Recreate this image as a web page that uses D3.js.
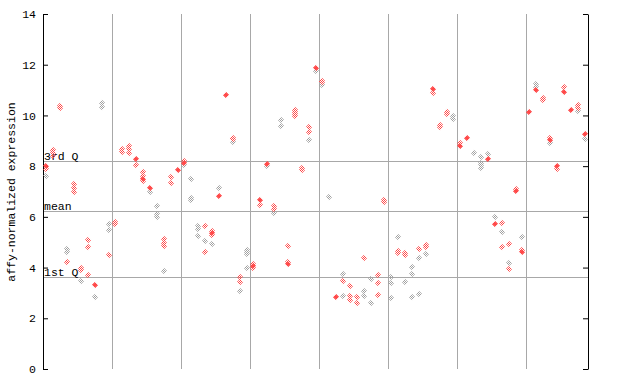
<!DOCTYPE html>
<html>
<head>
<meta charset="utf-8">
<script src="https://cdn.jsdelivr.net/npm/d3@7"></script>
<style>
html,body{margin:0;padding:0;background:#fff;}
svg{display:block;}
text{font-family:"Liberation Mono","DejaVu Sans Mono",monospace;fill:#000;}
</style>
</head>
<body>
<svg id="chart" width="640" height="384"></svg>
<script>
// ---- data ----
const sampleCount = 79;
const groupSize = 10;
const yTicks = [0, 2, 4, 6, 8, 10, 12, 14];
const refLabels = ["3rd Q", "mean", "1st Q"];
const refValues = [8.22, 6.23, 3.63];
const yLabel = "affy-normalized expression";

// red hatched points: sample index / value
const redSample = [0,0,1,1,1,2,2,3,4,4,4,5,5,6,6,6,7,9,10,10,11,11,12,12,12,13,13,14,14,14,14,15,17,17,17,18,18,19,
  20,20,23,23,24,24,24,25,26,27,27,28,28,30,30,30,31,31,32,33,33,35,35,35,36,36,36,36,37,37,38,38,39,40,40,
  42,43,44,44,44,45,45,46,48,48,48,49,49,51,51,52,52,54,55,55,56,56,57,57,58,58,60,60,61,64,65,66,66,67,67,68,68,69,69,
  70,71,72,72,73,73,74,74,75,75,76,77,77,78];
const redValue = [8.0,7.89,8.64,8.52,8.40,10.36,10.30,4.21,7.28,7.13,6.99,3.99,3.92,5.07,4.80,3.71,3.30,4.48,5.78,5.72,8.66,8.56,8.79,8.69,8.51,8.29,8.03,7.76,7.62,7.49,7.41,7.15,5.11,4.98,4.86,7.56,7.33,7.83,
  8.20,8.14,5.64,4.60,5.44,5.38,5.30,6.83,10.81,9.12,9.06,3.63,3.42,4.13,4.05,3.98,6.68,6.45,8.10,6.43,6.32,4.84,4.21,4.13,10.20,10.12,10.04,9.97,7.94,7.86,9.54,9.35,11.88,11.37,11.31,
  2.84,3.47,3.26,2.87,2.71,2.83,2.59,4.37,3.69,3.38,2.91,6.66,6.57,4.64,4.56,4.59,4.48,4.73,4.89,4.80,11.03,10.87,9.61,9.53,10.14,10.04,8.90,8.81,9.11,8.29,5.73,5.74,4.81,4.93,3.96,7.10,7.01,4.70,4.63,
  10.12,10.99,10.68,10.60,9.12,9.03,7.99,7.89,11.12,10.94,10.23,10.41,10.30,9.27];

// grey hatched points: sample index / value
const greySample = [0,3,3,5,7,8,8,9,9,15,16,16,16,17,20,21,21,21,22,22,22,23,24,25,27,28,29,29,29,29,32,33,34,34,38,39,40,
  41,43,43,46,46,47,47,50,50,50,51,52,53,53,53,54,54,55,59,59,62,63,63,63,63,64,65,66,67,69,71,71,73,77,78];
const greyValue = [7.61,4.73,4.63,3.47,2.84,10.48,10.33,5.71,5.47,6.97,6.43,6.10,6.01,3.86,8.05,7.48,6.76,6.68,5.64,5.51,5.23,5.03,4.92,7.12,8.94,3.06,4.70,4.63,4.52,3.97,8.01,6.14,9.81,9.57,9.02,11.75,11.21,
  6.78,3.73,2.87,3.06,2.87,3.54,2.59,3.61,3.38,2.79,5.19,3.42,4.01,3.73,2.83,4.37,2.95,4.52,9.97,9.87,8.50,8.35,8.14,8.03,7.94,8.47,6.01,5.39,4.19,5.19,11.23,11.13,8.92,10.17,9.08];

// overlapping (solid-looking) red points: sample index / value
const solidSample = [0,7,13,14,15,19,20,24,25,26,30,31,32,35,39,42,56,60,61,64,65,68,69,70,71,73,74,75,76,78];
const solidValue = [8.0,3.30,8.29,7.49,7.15,7.83,8.14,5.38,6.83,10.81,4.05,6.68,8.10,4.13,11.88,2.84,11.03,8.81,9.11,8.29,5.73,7.01,4.63,10.12,10.99,9.03,7.99,10.94,10.23,9.27];

// ---- drawing ----
const svg = d3.select("#chart");
const pL = 43, pR = 588, pT = 14, pB = 369;
const x = d3.scaleLinear().domain([0, sampleCount]).range([pL, pR]);
const y = d3.scaleLinear().domain([0, 14]).range([pB, pT]);
const RED = "#ff4848", GREY = "#a0a0a0", GRID = "#a8a8a8";
const FONT = "Liberation Mono, DejaVu Sans Mono, monospace";

const defs = svg.append("defs");
function hatch(id, color) {
  const p = defs.append("pattern").attr("id", id).attr("patternUnits", "userSpaceOnUse")
    .attr("width", 2).attr("height", 2);
  p.append("rect").attr("x", 0).attr("y", 0).attr("width", 1).attr("height", 1).attr("fill", color);
  p.append("rect").attr("x", 1).attr("y", 1).attr("width", 1).attr("height", 1).attr("fill", color);
}
hatch("hRed", RED);
hatch("hGrey", GREY);

// vertical group separators
const seps = d3.range(groupSize, sampleCount, groupSize);
svg.append("g").selectAll("line").data(seps).join("line")
  .attr("x1", d => Math.round(x(d)) + 0.5).attr("x2", d => Math.round(x(d)) + 0.5)
  .attr("y1", pT).attr("y2", pB)
  .attr("stroke", GRID).attr("stroke-width", 1);

// reference lines
svg.append("g").selectAll("line").data(refValues).join("line")
  .attr("x1", pL).attr("x2", pR)
  .attr("y1", d => Math.round(y(d)) + 0.5).attr("y2", d => Math.round(y(d)) + 0.5)
  .attr("stroke", GRID).attr("stroke-width", 1);

svg.append("g").selectAll("text").data(refLabels).join("text")
  .attr("x", pL + 1).attr("y", (d, i) => Math.round(y(refValues[i])) - 1)
  .attr("font-size", "11.5px").attr("font-family", FONT).text(d => d);

// axes
const axL = d3.axisLeft(y).tickValues(yTicks).tickSizeInner(-5).tickSizeOuter(0).tickPadding(7).tickFormat(d3.format("d"));
svg.append("g").attr("transform", `translate(${pL},0)`).call(axL)
  .call(g => g.selectAll("text").attr("font-size", "11.5px").attr("font-family", FONT))
  .call(g => g.selectAll("line,path").attr("stroke", "#000"));
const axR = d3.axisRight(y).tickValues(yTicks).tickSizeInner(-5).tickSizeOuter(0).tickFormat("");
svg.append("g").attr("transform", `translate(${pR},0)`).call(axR)
  .call(g => g.selectAll("line,path").attr("stroke", "#000"));

// y label
svg.append("text").attr("transform", `translate(15,192) rotate(-90)`)
  .attr("text-anchor", "middle").attr("font-size", "11.5px").attr("font-family", FONT).text(yLabel);

// points
function diamond(cx, cy, r) {
  return `M${cx},${cy - r}L${cx + r},${cy}L${cx},${cy + r}L${cx - r},${cy}Z`;
}
function drawPoints(samples, values, fill) {
  svg.append("g").selectAll("path").data(samples).join("path")
    .attr("d", (s, i) => diamond(Math.round(x(s + 0.5)), Math.round(y(values[i])), 3.2))
    .attr("fill", fill);
}
drawPoints(greySample, greyValue, "url(#hGrey)");
drawPoints(redSample, redValue, "url(#hRed)");
svg.append("g").selectAll("path").data(solidSample).join("path")
  .attr("d", (s, i) => diamond(Math.round(x(s + 0.5)), Math.round(y(solidValue[i])), 2.6))
  .attr("fill", RED);
</script>
</body>
</html>
